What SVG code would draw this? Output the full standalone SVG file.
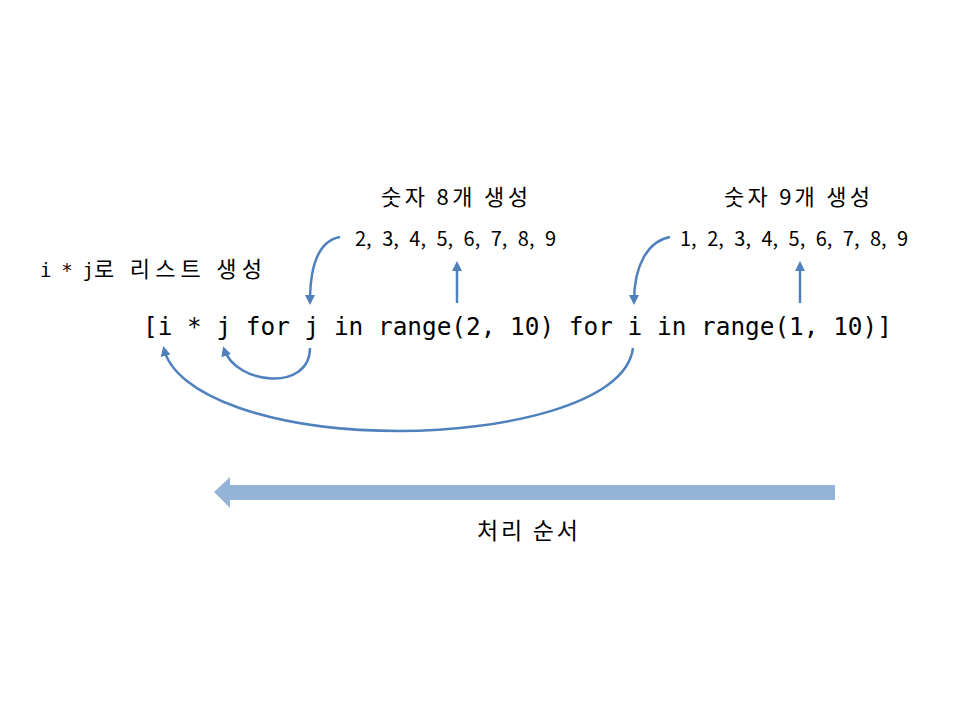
<svg xmlns="http://www.w3.org/2000/svg" width="960" height="720" viewBox="0 0 960 720">
<defs>
<style>
.k{font-family:"Noto Sans CJK KR","Noto Sans",sans-serif;fill:#000}
.n{font-family:"Noto Sans CJK KR","Noto Sans",sans-serif;fill:#000;font-size:20px;word-spacing:6px}
.m{font-family:"DejaVu Sans Mono","Liberation Mono",monospace;fill:#000}
.c{fill:none;stroke:#4F81BD;stroke-width:2.5;marker-end:url(#ah)}
</style>
<marker id="ah" viewBox="0 0 10 10" refX="7" refY="5" markerWidth="4" markerHeight="4" orient="auto" markerUnits="strokeWidth">
<path d="M0,0 L10,5 L0,10 z" fill="#4F81BD"/>
</marker>
</defs>
<rect width="960" height="720" fill="#fff"/>
<g id="code"><text class="m" x="143" y="335" font-size="24.4">[i * j for j in range(2, 10) for i in range(1, 10)]</text></g>
<g id="label-list"><text class="m" x="40" y="277" font-size="19" textLength="54" lengthAdjust="spacing">i * j</text><text class="k" x="94" y="277" font-size="22" textLength="168" lengthAdjust="spacing">로 리스트 생성</text></g>
<g id="label-8"><text class="k" x="381" y="205" font-size="22" textLength="147" lengthAdjust="spacing">숫자 8개 생성</text>
<text class="n" x="355" y="246">2, 3, 4, 5, 6, 7, 8, 9</text></g>
<g id="label-9"><text class="k" x="724" y="205" font-size="22" textLength="146" lengthAdjust="spacing">숫자 9개 생성</text>
<text class="n" x="680" y="246">1, 2, 3, 4, 5, 6, 7, 8, 9</text></g>
<g id="order"><polygon points="214,492 230,477 230,485 835,485 835,500 230,500 230,508" fill="#95B3D7"/>
<text class="k" x="477" y="539" font-size="23" textLength="101" lengthAdjust="spacing">처리 순서</text></g>
<g id="connectors">
<path class="c" d="M340,237 C318,241 310,265 310,302"/>
<path class="c" d="M457,303 L457,264"/>
<path class="c" d="M670,237 C648,241 634,265 634,302"/>
<path class="c" d="M800,303 L800,264"/>
<path class="c" d="M310,348 C310,392 236,385 224,349"/>
<path class="c" d="M633,348 C626,405 500,431 400,431 C270,431 175,395 164,349"/>
</g>
</svg>
